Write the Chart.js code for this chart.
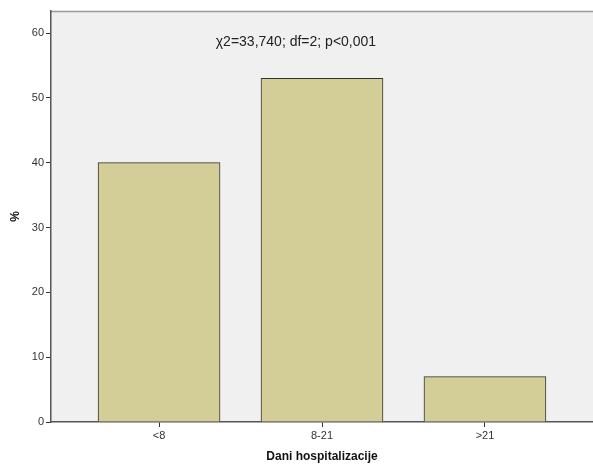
<!DOCTYPE html>
<html>
<head>
<meta charset="utf-8">
<script src="https://cdn.jsdelivr.net/npm/chart.js@4"></script>
<style>
  html, body { margin: 0; padding: 0; background: #fff; }
  #wrap { width: 593px; height: 464px; }
</style>
</head>
<body>
<div id="wrap"><canvas id="chart"></canvas></div>
<script>
var categories = ['<8', '8-21', '>21'];
var percents = [40, 53, 7];
var yTicks = [0, 10, 20, 30, 40, 50, 60];
var statText = 'χ2=33,740; df=2; p<0,001';

// background + frame of the plot area, plus the chi-square note
var framePlugin = {
    id: 'frame',
    beforeDraw: function (chart) {
        var a = chart.chartArea, c = chart.ctx;
        c.save();
        c.fillStyle = '#f0f0f0';
        c.fillRect(a.left, a.top, a.right - a.left, a.bottom - a.top);
        c.strokeStyle = '#9a9a9a';
        c.lineWidth = 1.5;
        c.beginPath();
        c.moveTo(a.left, a.top + 0.5);
        c.lineTo(a.right, a.top + 0.5);
        c.stroke();
        c.restore();
    },
    afterDraw: function (chart) {
        var c = chart.ctx;
        var x = chart.scales.x.getPixelForValue(0.84);
        var y = chart.scales.y.getPixelForValue(58.6);
        c.save();
        c.font = '14px "Liberation Sans", Arial, sans-serif';
        c.fillStyle = '#222';
        c.textAlign = 'center';
        c.textBaseline = 'middle';
        c.fillText(statText, x, y);
        c.restore();
    }
};

var ctx = document.getElementById('chart').getContext('2d');
var chart = new Chart(ctx, {
    type: 'bar',
    data: {
        datasets: [{
            data: percents.map(function (v, i) { return { x: i, y: v }; }),
            backgroundColor: '#d3ce98',
            borderColor: '#333',
            borderWidth: 1,
            barThickness: 122
        }]
    },
    options: {
        responsive: true,
        maintainAspectRatio: false,
        animation: false,
        layout: { padding: { top: 11, right: 0, left: 0, bottom: 0 } },
        plugins: { legend: { display: false }, tooltip: { enabled: false } },
        scales: {
            x: {
                type: 'linear',
                offset: false,
                min: -0.663,
                max: 2.663,
                afterBuildTicks: function (s) {
                    s.ticks = categories.map(function (c, i) { return { value: i }; });
                },
                afterFit: function (s) { s.height = 42; },
                ticks: {
                    callback: function (v) { return categories[v]; },
                    color: '#333',
                    font: { family: '"Liberation Sans", Arial, sans-serif', size: 11 },
                    padding: 2,
                    maxRotation: 0
                },
                grid: { offset: false, drawOnChartArea: false, drawTicks: true, tickLength: 5, color: '#333', lineWidth: 1 },
                border: { color: '#555', width: 1.5 },
                title: {
                    display: true,
                    text: 'Dani hospitalizacije',
                    color: '#111',
                    font: { family: '"Liberation Sans", Arial, sans-serif', size: 12, weight: 'bold' },
                    padding: { top: 6, bottom: 0 }
                }
            },
            y: {
                min: 0,
                max: 63.4,
                afterBuildTicks: function (s) {
                    s.ticks = yTicks.map(function (v) { return { value: v }; });
                },
                afterFit: function (s) { s.width = 51; },
                ticks: {
                    color: '#333',
                    font: { family: '"Liberation Sans", Arial, sans-serif', size: 11 },
                    padding: 2
                },
                grid: { drawOnChartArea: false, drawTicks: true, tickLength: 5, color: '#333', lineWidth: 1 },
                border: { color: '#555', width: 1.5 },
                title: {
                    display: true,
                    text: '%',
                    color: '#111',
                    font: { family: '"Liberation Sans", Arial, sans-serif', size: 12, weight: 'bold' },
                    padding: { top: 8, bottom: 0 }
                }
            }
        }
    },
    plugins: [framePlugin]
});
</script>
</body>
</html>
